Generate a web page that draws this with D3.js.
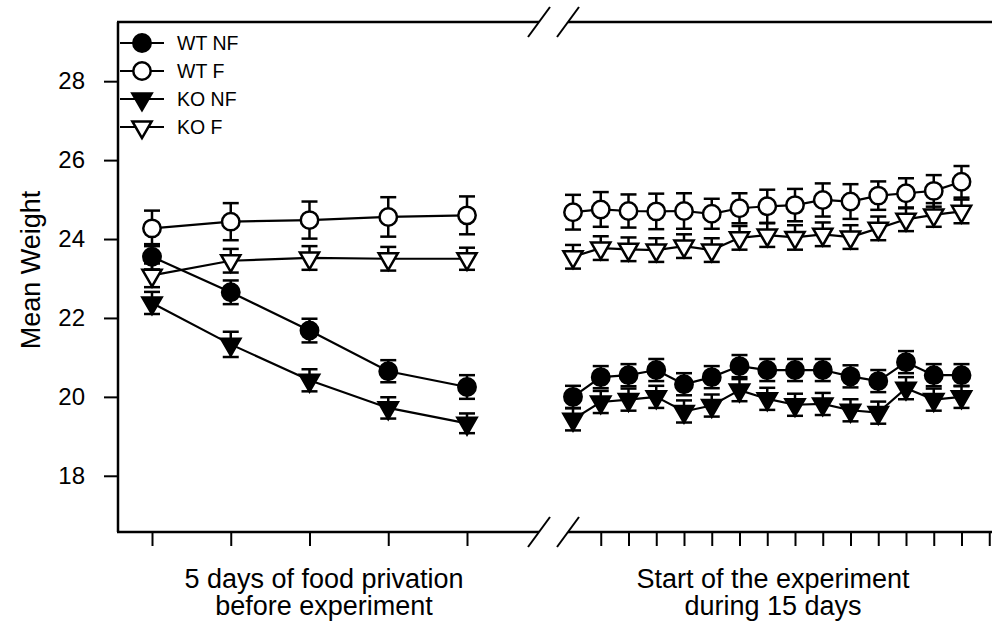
<!DOCTYPE html>
<html>
<head>
<meta charset="utf-8">
<script src="https://cdn.jsdelivr.net/npm/d3@7"></script>
<style>
  html, body { margin: 0; padding: 0; background: #fff; }
  svg { display: block; font-family: "Liberation Sans", Arial, sans-serif; }
</style>
</head>
<body>
<svg id="chart" width="992" height="623"></svg>
<script>
// ---- data ----
const seriesNames = ["WT NF", "WT F", "KO NF", "KO F"];

// days of food privation (left panel)
const preDays = [1, 2, 3, 4, 5];
// days of the experiment (right panel)
const expDays = [0, 1, 2, 3, 4, 5, 6, 7, 8, 9, 10, 11, 12, 13, 14];
const expTickDays = [1, 2, 3, 4, 5, 6, 7, 8, 9, 10, 11, 12, 13, 14, 15];
const yTicks = [18, 20, 22, 24, 26, 28];

const wtNFPre    = [23.55, 22.65, 21.68, 20.65, 20.25];
const wtNFPreErr = [0.32, 0.3, 0.3, 0.28, 0.3];
const wtFPre     = [24.27, 24.44, 24.48, 24.56, 24.6];
const wtFPreErr  = [0.45, 0.47, 0.47, 0.5, 0.48];
const koNFPre    = [22.38, 21.33, 20.42, 19.72, 19.33];
const koNFPreErr = [0.28, 0.32, 0.28, 0.27, 0.25];
const koFPre     = [23.08, 23.45, 23.52, 23.5, 23.5];
const koFPreErr  = [0.3, 0.3, 0.3, 0.3, 0.28];

const wtNFExp    = [20.0, 20.5, 20.55, 20.68, 20.32, 20.5, 20.78, 20.68, 20.68, 20.68, 20.52, 20.4, 20.88, 20.55, 20.55];
const wtNFExpErr = [0.28, 0.28, 0.28, 0.28, 0.28, 0.28, 0.28, 0.28, 0.28, 0.28, 0.28, 0.28, 0.28, 0.28, 0.28];
const wtFExp     = [24.68, 24.75, 24.71, 24.7, 24.71, 24.64, 24.78, 24.83, 24.86, 24.99, 24.95, 25.1, 25.16, 25.22, 25.45];
const wtFExpErr  = [0.44, 0.44, 0.42, 0.45, 0.45, 0.38, 0.38, 0.42, 0.41, 0.42, 0.44, 0.36, 0.38, 0.4, 0.4];
const koNFExp    = [19.43, 19.87, 19.93, 20.0, 19.63, 19.78, 20.17, 19.95, 19.8, 19.82, 19.66, 19.6, 20.22, 19.93, 20.0];
const koNFExpErr = [0.28, 0.28, 0.28, 0.28, 0.28, 0.28, 0.28, 0.28, 0.28, 0.28, 0.28, 0.28, 0.28, 0.28, 0.28];
const koFExp     = [23.55, 23.77, 23.74, 23.72, 23.82, 23.72, 24.03, 24.1, 24.04, 24.12, 24.05, 24.27, 24.5, 24.61, 24.7];
const koFExpErr  = [0.3, 0.3, 0.3, 0.3, 0.3, 0.3, 0.3, 0.3, 0.31, 0.3, 0.3, 0.3, 0.3, 0.3, 0.3];

const yLabel = "Mean Weight";
const preLabel = ["5 days of food privation", "before experiment"];
const expLabel = ["Start of the experiment", "during 15 days"];

// ---- layout ----
const svg = d3.select("#chart");
const plotLeft = 118, plotTop = 22, plotBottom = 532, plotRight = 992;
const breakA = 539, breakB = 568;   // centres of the two break slashes

const y = d3.scaleLinear().domain([16.55, 29.5]).range([533, 22]);
const xPre = d3.scaleLinear().domain([1, 5]).range([152, 467]);
const xExp = d3.scaleLinear().domain([0, 14]).range([573, 961.5]);

// marker styles: filled circle, open circle, filled down triangle, open down triangle
const styles = {
  "WT NF": { shape: "circle", fill: "#000" },
  "WT F":  { shape: "circle", fill: "#fff" },
  "KO NF": { shape: "triangle", fill: "#000" },
  "KO F":  { shape: "triangle", fill: "#fff" }
};

const series = [
  { name: "WT NF", pre: wtNFPre, preErr: wtNFPreErr, exp: wtNFExp, expErr: wtNFExpErr },
  { name: "WT F",  pre: wtFPre,  preErr: wtFPreErr,  exp: wtFExp,  expErr: wtFExpErr },
  { name: "KO NF", pre: koNFPre, preErr: koNFPreErr, exp: koNFExp, expErr: koNFExpErr },
  { name: "KO F",  pre: koFPre,  preErr: koFPreErr,  exp: koFExp,  expErr: koFExpErr }
];

function pointsOf(s) {
  const a = preDays.map((d, i) => ({ x: xPre(d), v: s.pre[i], e: s.preErr[i] }));
  const b = expDays.map((d, i) => ({ x: xExp(d), v: s.exp[i], e: s.expErr[i] }));
  return [a, b];
}

const triPath = d3.symbol().type(d3.symbolTriangle).size(160)();
function drawMarker(g, name, cx, cy) {
  const st = styles[name];
  if (st.shape === "circle") {
    g.append("circle").attr("cx", cx).attr("cy", cy).attr("r", 8.7)
      .attr("fill", st.fill).attr("stroke", "#000").attr("stroke-width", 2.5);
  } else {
    g.append("path").attr("d", triPath)
      .attr("transform", `translate(${cx},${cy}) rotate(180)`)
      .attr("fill", st.fill).attr("stroke", "#000").attr("stroke-width", 2.5)
      .attr("stroke-linejoin", "miter");
  }
}

// ---- frame ----
const frame = svg.append("g").attr("stroke", "#000").attr("stroke-width", 2.5).attr("fill", "none");
frame.append("line").attr("x1", plotLeft).attr("x2", plotLeft).attr("y1", plotTop).attr("y2", plotBottom);
frame.append("line").attr("x1", plotLeft - 1).attr("x2", breakA).attr("y1", plotTop).attr("y2", plotTop);
frame.append("line").attr("x1", breakB).attr("x2", plotRight).attr("y1", plotTop).attr("y2", plotTop);
frame.append("line").attr("x1", plotLeft - 1).attr("x2", breakA).attr("y1", plotBottom).attr("y2", plotBottom);
frame.append("line").attr("x1", breakB).attr("x2", plotRight).attr("y1", plotBottom).attr("y2", plotBottom);
[plotTop, plotBottom].forEach(yy => {
  [breakA, breakB].forEach(cx => {
    frame.append("line").attr("x1", cx - 11).attr("y1", yy + 15)
      .attr("x2", cx + 11).attr("y2", yy - 15).attr("stroke-width", 2);
  });
});

// ---- y axis ----
const yAxis = d3.axisLeft(y).tickValues(yTicks).tickSize(14).tickPadding(19).tickFormat(d3.format("d"));
const gy = svg.append("g").attr("transform", `translate(${plotLeft},0)`).call(yAxis);
gy.select(".domain").remove();
gy.selectAll(".tick line").attr("stroke", "#000").attr("stroke-width", 2);
gy.selectAll(".tick text").attr("fill", "#000").style("font-size", "24px")
  .style("font-family", "'Liberation Sans', Arial, sans-serif");

svg.append("text")
  .attr("transform", `translate(31,270) rotate(-90)`)
  .attr("text-anchor", "middle").attr("dominant-baseline", "central")
  .style("font-size", "27px").text(yLabel);

// ---- x axes (ticks only, no labels) ----
const xPreAxis = d3.axisBottom(xPre).tickValues(preDays).tickSize(14).tickFormat("");
const gxa = svg.append("g").attr("transform", `translate(0,${plotBottom})`).call(xPreAxis);
gxa.select(".domain").remove();
gxa.selectAll(".tick line").attr("stroke", "#000").attr("stroke-width", 2);

const xExpAxis = d3.axisBottom(xExp).tickValues(expTickDays).tickSize(14).tickFormat("");
const gxb = svg.append("g").attr("transform", `translate(0,${plotBottom})`).call(xExpAxis);
gxb.select(".domain").remove();
gxb.selectAll(".tick line").attr("stroke", "#000").attr("stroke-width", 2);

function multiline(lines, cx) {
  const t = svg.append("text").attr("text-anchor", "middle").style("font-size", "27px");
  lines.forEach((l, i) => t.append("tspan").attr("x", cx).attr("y", 588 + i * 27).text(l));
}
multiline(preLabel, 324);
multiline(expLabel, 773);

// ---- data lines ----
const line = d3.line().x(p => p.x).y(p => y(p.v));
const gLines = svg.append("g");
series.forEach(s => {
  pointsOf(s).forEach(seg => {
    gLines.append("path").attr("d", line(seg)).attr("fill", "none")
      .attr("stroke", "#000").attr("stroke-width", 2.2);
  });
});

// ---- error bars ----
const gErr = svg.append("g").attr("stroke", "#000").attr("stroke-width", 2.5);
series.forEach(s => {
  pointsOf(s).flat().forEach(p => {
    const y1 = y(p.v + p.e), y2 = y(p.v - p.e);
    gErr.append("line").attr("x1", p.x).attr("x2", p.x).attr("y1", y1).attr("y2", y2);
    gErr.append("line").attr("x1", p.x - 8).attr("x2", p.x + 8).attr("y1", y1).attr("y2", y1);
    gErr.append("line").attr("x1", p.x - 8).attr("x2", p.x + 8).attr("y1", y2).attr("y2", y2);
  });
});

// ---- markers ----
const gMarks = svg.append("g");
series.forEach(s => {
  pointsOf(s).flat().forEach(p => drawMarker(gMarks, s.name, p.x, y(p.v)));
});

// ---- legend ----
const gLeg = svg.append("g");
seriesNames.forEach((n, i) => {
  const ly = 43 + i * 28;
  gLeg.append("line").attr("x1", 120).attr("x2", 164).attr("y1", ly).attr("y2", ly)
    .attr("stroke", "#000").attr("stroke-width", 2.2);
  drawMarker(gLeg, n, 142, ly);
  gLeg.append("text").attr("x", 177).attr("y", ly).attr("dominant-baseline", "central")
    .style("font-size", "19.5px").text(n);
});
</script>
</body>
</html>
